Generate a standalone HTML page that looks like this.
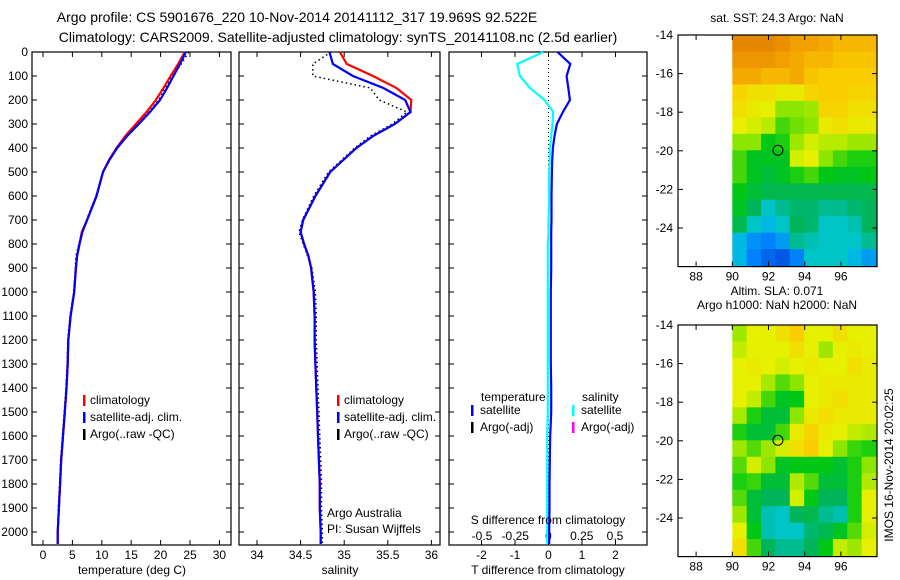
<!DOCTYPE html>
<html><head><meta charset="utf-8"><style>
html,body{margin:0;padding:0;background:#fff;}
svg{display:block;font-family:"Liberation Sans",sans-serif;font-size:12px;}
</style></head><body>
<svg id="c" width="900" height="580" viewBox="0 0 900 580">
<text x="297" y="22" text-anchor="middle" style="font-size:14px">Argo profile: CS 5901676_220 10-Nov-2014 20141112_317 19.969S 92.522E</text>
<text x="338" y="42" text-anchor="middle" style="font-size:14px">Climatology: CARS2009. Satellite-adjusted climatology: synTS_20141108.nc (2.5d earlier)</text>
</svg>
<script>
// ---- data ----
const depths   = [0,50,100,150,200,250,300,350,400,450,500,600,700,750,800,850,900,1000,1100,1200,1300,1400,1500,1600,1700,1800,1900,2000,2050];
const tempClim = [24.1,23.0,21.7,20.5,19.2,17.6,15.8,14.0,12.5,11.2,10.2,9.1,7.5,6.6,6.2,5.8,5.6,5.3,4.7,4.3,4.2,4.0,3.7,3.4,3.1,2.9,2.7,2.5,2.5];
const tempSat  = [24.3,23.3,22.2,21.1,19.9,18.2,16.3,14.3,12.6,11.3,10.2,9.1,7.5,6.7,6.2,5.8,5.6,5.3,4.7,4.3,4.2,4.0,3.7,3.4,3.1,2.9,2.7,2.5,2.5];
const tempArgo = [24.8,23.5,22.0,20.8,19.7,18.0,16.2,14.3,12.7,11.3,10.2,9.0,7.4,6.6,6.1,5.6,5.5,5.2,4.6,4.2,4.1,3.9,3.6,3.3,3.0,2.8,2.6,2.5,2.5];
const salClim  = [34.95,35.03,35.33,35.60,35.77,35.76,35.58,35.33,35.14,34.99,34.84,34.67,34.53,34.50,34.54,34.59,34.62,34.65,34.66,34.66,34.67,34.68,34.69,34.70,34.71,34.72,34.72,34.73,34.73];
const salSat   = [34.83,34.87,35.10,35.45,35.70,35.76,35.58,35.33,35.14,34.99,34.84,34.67,34.53,34.50,34.54,34.59,34.62,34.65,34.66,34.66,34.67,34.68,34.69,34.70,34.71,34.72,34.72,34.73,34.73];
const salArgo  = [34.85,34.64,34.64,35.30,35.40,35.72,35.55,35.30,35.12,34.97,34.82,34.65,34.52,34.48,34.53,34.58,34.63,34.67,34.68,34.68,34.69,34.70,34.71,34.72,34.73,34.74,34.74,34.75,34.75];
const dT       = [0.27,0.65,0.54,0.59,0.64,0.43,0.25,0.18,0.13,0.11,0.10,0.09,0.09,0.08,0.08,0.08,0.08,0.07,0.07,0.07,0.07,0.08,0.08,0.05,0.04,0.03,0.03,0.02,0.02];
const dS       = [-0.04,-0.235,-0.215,-0.14,-0.03,0.035,0.03,0.02,0.01,0.01,0.005,0.005,0.0,0.0,-0.005,-0.005,-0.005,-0.005,-0.005,-0.005,-0.005,-0.005,-0.005,-0.01,-0.01,-0.01,-0.01,-0.01,-0.01];
const depthTicks = [0,100,200,300,400,500,600,700,800,900,1000,1100,1200,1300,1400,1500,1600,1700,1800,1900,2000];
const tempTicks = [0,5,10,15,20,25,30];
const salTicks = [34,34.5,35,35.5,36];
const dTTicks = [-2,-1,0,1,2];
const dSTicks = [-0.5,-0.25,0,0.25,0.5];
const latTicks = [-14,-16,-18,-20,-22,-24];
const lonTicks = [88,90,92,94,96];
const sstGrid = [
[0.95,0.95,0.95,0.93,0.9,0.9,0.88,0.85,0.85,0.85],
[0.92,0.92,0.92,0.9,0.88,0.85,0.85,0.82,0.82,0.82],
[0.88,0.88,0.85,0.85,0.88,0.82,0.8,0.8,0.8,0.8],
[0.78,0.75,0.75,0.72,0.72,0.78,0.8,0.8,0.78,0.78],
[0.75,0.72,0.7,0.6,0.6,0.62,0.78,0.78,0.75,0.75],
[0.7,0.68,0.65,0.55,0.58,0.6,0.72,0.75,0.72,0.72],
[0.6,0.6,0.5,0.52,0.62,0.68,0.65,0.65,0.62,0.62],
[0.55,0.48,0.48,0.48,0.68,0.7,0.6,0.55,0.52,0.52],
[0.55,0.48,0.45,0.48,0.52,0.55,0.5,0.48,0.48,0.5],
[0.5,0.45,0.42,0.42,0.42,0.42,0.42,0.42,0.42,0.42],
[0.48,0.4,0.3,0.35,0.38,0.38,0.35,0.35,0.38,0.4],
[0.42,0.3,0.25,0.3,0.4,0.38,0.3,0.3,0.32,0.4],
[0.25,0.18,0.15,0.2,0.35,0.32,0.3,0.3,0.3,0.35],
[0.25,0.15,0.08,0.05,0.15,0.3,0.3,0.3,0.25,0.2]];
const slaGrid = [
[0.62,0.7,0.7,0.75,0.8,0.7,0.7,0.75,0.7,0.7],
[0.66,0.7,0.7,0.7,0.75,0.7,0.62,0.7,0.72,0.7],
[0.7,0.72,0.7,0.68,0.7,0.72,0.7,0.7,0.75,0.72],
[0.7,0.7,0.63,0.56,0.6,0.7,0.72,0.72,0.72,0.72],
[0.7,0.66,0.55,0.48,0.5,0.7,0.72,0.75,0.72,0.72],
[0.63,0.52,0.45,0.45,0.6,0.72,0.75,0.72,0.72,0.72],
[0.52,0.45,0.45,0.55,0.72,0.78,0.72,0.7,0.66,0.64],
[0.62,0.56,0.62,0.68,0.75,0.8,0.7,0.6,0.54,0.52],
[0.56,0.68,0.6,0.48,0.5,0.5,0.5,0.46,0.52,0.6],
[0.52,0.54,0.45,0.45,0.64,0.56,0.45,0.45,0.52,0.64],
[0.56,0.45,0.4,0.4,0.68,0.5,0.4,0.4,0.52,0.7],
[0.62,0.45,0.32,0.3,0.4,0.42,0.35,0.32,0.52,0.7],
[0.7,0.5,0.32,0.3,0.3,0.38,0.42,0.48,0.56,0.68],
[0.75,0.55,0.4,0.35,0.35,0.4,0.5,0.66,0.62,0.7]];

// ---- scales ----
const NS='http://www.w3.org/2000/svg';
const svg=document.getElementById('c');
function mk(tag,attrs,parent){const e=document.createElementNS(NS,tag);for(const k in attrs)e.setAttribute(k,attrs[k]);(parent||svg).appendChild(e);return e;}
const yD=d=>52+d*0.24;
const xT=t=>43+t*5.88;
const xS=s=>257+(s-34)*87.2;
const xdT=v=>548.5+v*33.5;
const xdS=v=>548.5+v*133;
const yTop=52,yBot=545;

function panel(name,x0,x1){
  const r=mk('rect',{x:x0,y:yTop,width:x1-x0,height:yBot-yTop,fill:'none',stroke:'#000','stroke-width':1.2});
  
  
  depthTicks.forEach(d=>{
    mk('line',{x1:x0,x2:x0+5,y1:yD(d),y2:yD(d),stroke:'#000'});
    mk('line',{x1:x1,x2:x1-5,y1:yD(d),y2:yD(d),stroke:'#000'});
  });
}
function line(vals,xf,color,name,dash,w){
  const pts=depths.map((d,i)=>xf(vals[i]).toFixed(1)+','+yD(d).toFixed(1)).join(' ');
  const p=mk('polyline',{points:pts,fill:'none',stroke:color,'stroke-width':w||2.2});
  if(dash)p.setAttribute('stroke-dasharray',dash);
  
  
}
function text(x,y,s,name,anchor){const t=mk('text',{x:x,y:y,'text-anchor':anchor||'start'});t.textContent=s;return t;}
function xticks(ticks,xf,withLabels){
  ticks.forEach(t=>{
    mk('line',{x1:xf(t),x2:xf(t),y1:yBot,y2:yBot-5,stroke:'#000'});
    mk('line',{x1:xf(t),x2:xf(t),y1:yTop,y2:yTop+5,stroke:'#000'});
    if(withLabels)text(xf(t),559,String(t),'x-tick-label','middle');
  });
}

// depth labels
depthTicks.forEach(d=>{text(28,yD(d)+4,String(d),'y-tick-label','end');});

// panel 1
panel('temperature-panel',32,231);
xticks(tempTicks,xT,true);
line(tempArgo,xT,'#000','temp-argo-line','1.5,3',1.5);
line(tempClim,xT,'#f00','temp-climatology-line');
line(tempSat,xT,'#00f','temp-satellite-line');
text(132,574,'temperature (deg C)','x-axis-title','middle');
[['#f00','climatology'],['#00f','satellite-adj. clim.'],['#000','Argo(..raw -QC)']].forEach((l,i)=>{
  mk('rect',{x:83,y:395+i*17,width:2.5,height:11,fill:l[0]});
  text(90,404+i*17,l[1],'legend-entry');
});

// panel 2
panel('salinity-panel',239,440);
xticks(salTicks,xS,true);
line(salArgo,xS,'#000','sal-argo-line','1.5,3',1.5);
line(salClim,xS,'#f00','sal-climatology-line');
line(salSat,xS,'#00f','sal-satellite-line');
text(340,574,'salinity','x-axis-title','middle');
[['#f00','climatology'],['#00f','satellite-adj. clim.'],['#000','Argo(..raw -QC)']].forEach((l,i)=>{
  mk('rect',{x:337,y:395+i*17,width:2.5,height:11,fill:l[0]});
  text(344,404+i*17,l[1],'legend-entry');
});
text(327,517,'Argo Australia','institution-label');
text(327,533,'PI: Susan Wijffels','pi-label');

// panel 3
panel('difference-panel',449,647);
mk('line',{x1:548.5,x2:548.5,y1:yTop,y2:yBot,stroke:'#000','stroke-dasharray':'1,3'});
xticks(dTTicks,xdT,true);
dSTicks.forEach(t=>{text(xdS(t),540,String(t),'s-tick-label','middle');});
line(dS,xdS,'#0ff','salinity-diff-line');
line(dT,xdT,'#00f','temperature-diff-line');
text(548,574,'T difference from climatology','x-axis-title','middle');
text(548,524,'S difference from climatology','s-axis-title','middle');
text(481,401,'temperature','legend-title');
text(582,401,'salinity','legend-title');
[['#00f','satellite',471],['#000','Argo(-adj)',471],['#0ff','satellite',572],['#f0f','Argo(-adj)',572]].forEach((l,i)=>{
  const row=i%2;
  mk('rect',{x:l[2],y:405+row*17,width:2.5,height:11,fill:l[0]});
  text(l[2]+9,414+row*17,l[1],'legend-entry');
});

// maps
function cmap(v){
  const stops=[[0,[0,70,210]],[0.15,[0,130,255]],[0.28,[0,200,220]],[0.4,[0,180,90]],[0.5,[0,200,20]],[0.6,[140,230,0]],[0.7,[230,240,0]],[0.8,[250,205,0]],[0.9,[242,160,0]],[1,[220,110,0]]];
  for(let i=1;i<stops.length;i++){if(v<=stops[i][0]){const a=stops[i-1],b=stops[i];const f=(v-a[0])/(b[0]-a[0]);return 'rgb('+a[1].map((c,k)=>Math.round(c+(b[1][k]-c)*f)).join(',')+')';}}
  return 'rgb(220,110,0)';
}
function map(name,grid,y0,titles){
  const g=mk('g',{});
  
  
  const lonX=l=>678+(l-87)*18.1;
  const latY=l=>y0+(-14-l)*19.3;
  const dx0=lonX(90),dx1=876,dy0=latY(-14),dy1=latY(-26)-1;
  const cw=(dx1-dx0)/grid[0].length,ch=(dy1-dy0)/grid.length;
  grid.forEach((row,r)=>row.forEach((v,c)=>{
    const cell=mk('rect',{x:dx0+c*cw,y:dy0+r*ch,width:cw+0.5,height:ch+0.5,fill:cmap(v)},g);
    
    
  }));
  mk('rect',{x:678,y:latY(-14),width:199,height:latY(-26)-latY(-14),fill:'none',stroke:'#000','stroke-width':1.2},g);
  latTicks.forEach(l=>{
    mk('line',{x1:678,x2:683,y1:latY(l),y2:latY(l),stroke:'#000'},g);
    mk('line',{x1:877,x2:872,y1:latY(l),y2:latY(l),stroke:'#000'},g);
    text(673,latY(l)+4,String(l),'lat-tick-label','end');
  });
  lonTicks.forEach(l=>{
    mk('line',{x1:lonX(l),x2:lonX(l),y1:latY(-26),y2:latY(-26)-5,stroke:'#000'},g);
    mk('line',{x1:lonX(l),x2:lonX(l),y1:latY(-14),y2:latY(-14)+5,stroke:'#000'},g);
    text(lonX(l),latY(-26)+14,String(l),'lon-tick-label','middle');
  });
  const c=mk('circle',{cx:lonX(92.522),cy:latY(-19.969),r:5,fill:'none',stroke:'#000'},g);
  
  
  titles.forEach((s,i)=>text(777,titles.length===1?22:y0-30+i*14,s,'map-title','middle'));
}
map('sst-map',sstGrid,35,['sat. SST: 24.3 Argo: NaN']);
map('sla-map',slaGrid,325,['Altim. SLA: 0.071','Argo h1000: NaN h2000: NaN']);
const r=text(0,0,'IMOS 16-Nov-2014 20:02:25','timestamp-label','middle');
r.setAttribute('transform','translate(893,465) rotate(-90)');
</script>
</body></html>
